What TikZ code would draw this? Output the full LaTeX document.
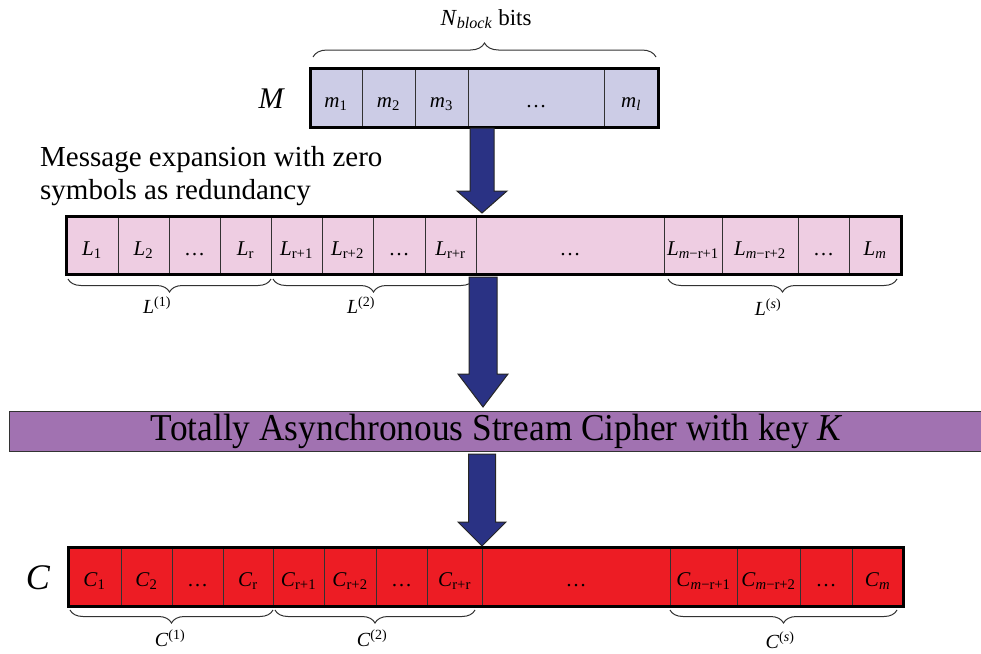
\documentclass[tikz,border=0pt]{standalone}
\usepackage{fontspec}
\setmainfont{Liberation Serif}
\usepackage{graphicx}
\usetikzlibrary{calc,fit,decorations.pathreplacing}

\definecolor{mfill}{RGB}{204,204,230}
\definecolor{lfill}{RGB}{238,205,226}
\definecolor{cfill}{RGB}{237,28,36}
\definecolor{barfill}{RGB}{161,114,177}
\definecolor{arrowfill}{RGB}{42,50,132}
\definecolor{divline}{RGB}{50,50,50}

% italic symbol with subscript / superscript
\newcommand\symsub[2]{\textit{#1}\textsubscript{#2}}
\newcommand\symsup[2]{\textit{#1}\textsuperscript{#2}}

% fat block arrow: top point, tip point, shaft half width, head half width, head length
\newcommand\fatarrow[5]{%
  \draw[blockarrow] ($(#1)+(-#3,0)$) -- ($(#1)+(#3,0)$) -- ($(#2)+(#3,-#5)$)
    -- ($(#2)+(#4,-#5)$) -- (#2) -- ($(#2)+(-#4,-#5)$) -- ($(#2)+(-#3,-#5)$) -- cycle;}

\begin{document}
\begin{tikzpicture}[x=1pt,y=-1pt,
  cellbase/.style={rectangle, draw=divline, line width=1pt, inner sep=0pt, outer sep=0pt,
    text height=22pt, text depth=2pt},
  mcell/.style={cellbase, fill=mfill, minimum height=59pt, font=\fontsize{21}{24}\selectfont},
  lcell/.style={cellbase, fill=lfill, minimum height=58pt, font=\fontsize{21}{24}\selectfont},
  ccell/.style={cellbase, fill=cfill, minimum height=59pt, font=\fontsize{21}{24}\selectfont},
  rowframe/.style={draw=black, line width=3pt, inner sep=0pt, outer sep=0pt},
  brc/.style={draw=divline, line width=1pt, decorate},
  bracelabel/.style={font=\fontsize{20}{24}\selectfont, inner sep=0pt},
  blockarrow/.style={fill=arrowfill, draw=black!85, line width=1pt, line join=miter},
  biglabel/.style={font=\fontsize{30}{34}\selectfont\itshape, inner sep=0pt}]

\useasboundingbox (0,0) rectangle (981,653);

% ---- message block M ----
\foreach \a/\b/\t [count=\i] in {
  310/362/{\symsub{m}{1}},
  362/415/{\symsub{m}{2}},
  415/468/{\symsub{m}{3}},
  468/604/{…},
  604/658/{\symsub{m}{\textit{l}}}}
  \node[mcell, minimum width={\b-\a}] (m\i) at ({(\a+\b)/2},97.5) {\t};
\node[rowframe, fit=(m1)(m5)] (mrow) {};
\node[biglabel] (mlabel) at (271,99) {M};

\draw[brc, decoration={brace, amplitude=14pt}] (313,57) -- (656,57);
\node[font=\fontsize{23}{26}\selectfont, inner sep=0pt] (nblock) at (486,19)
  {\symsub{N}{\textit{block}} bits};

% ---- expanded message L ----
\node[font=\fontsize{29}{33}\selectfont, align=left, anchor=base west, inner sep=0pt] (expnote)
  at (40,199) {Message expansion with zero\\symbols as redundancy};

\foreach \a/\b/\t [count=\i] in {
  66/118/{\symsub{L}{1}},
  118/169/{\symsub{L}{2}},
  169/220/{…},
  220/271/{\symsub{L}{r}},
  271/322/{\symsub{L}{r+1}},
  322/373/{\symsub{L}{r+2}},
  373/425/{…},
  425/476/{\symsub{L}{r+r}},
  476/664/{…},
  664/722/{\symsub{L}{\textit{m}−r+1}},
  722/798/{\symsub{L}{\textit{m}−r+2}},
  798/849/{…},
  849/901/{\symsub{L}{\textit{m}}}}
  \node[lcell, minimum width={\b-\a}] (l\i) at ({(\a+\b)/2},245) {\t};
\node[rowframe, fit=(l1)(l13)] (lrow) {};

\draw[brc, decoration={brace, mirror, amplitude=13pt}] (68,279) -- (271,279);
\draw[brc, decoration={brace, mirror, amplitude=13pt}] (273,279) -- (474,279);
\draw[brc, decoration={brace, mirror, amplitude=13pt}] (668,279) -- (897,279);
\node[bracelabel] (lb1) at (157,305) {\symsup{L}{(1)}};
\node[bracelabel] (lb2) at (361,305) {\symsup{L}{(2)}};
\node[bracelabel] (lbs) at (768,307) {\symsup{L}{(\textit{s})}};

% ---- cipher stage ----
\node[fill=barfill, draw=black!80, line width=1pt, anchor=north west, inner sep=0pt,
  minimum width=975pt, minimum height=40pt, font=\fontsize{38}{42}\selectfont] (bar) at (9,411)
  {\scalebox{0.93}[1]{Totally Asynchronous Stream Cipher with key \textit{K}}};

% ---- ciphertext C ----
\foreach \a/\b/\t [count=\i] in {
  68/121/{\symsub{C}{1}},
  121/172/{\symsub{C}{2}},
  172/223/{…},
  223/273/{\symsub{C}{r}},
  273/324/{\symsub{C}{r+1}},
  324/376/{\symsub{C}{r+2}},
  376/427/{…},
  427/482/{\symsub{C}{r+r}},
  482/670/{…},
  670/737/{\symsub{C}{\textit{m}−r+1}},
  737/800/{\symsub{C}{\textit{m}−r+2}},
  800/852/{…},
  852/903/{\symsub{C}{\textit{m}}}}
  \node[ccell, minimum width={\b-\a}] (c\i) at ({(\a+\b)/2},576.5) {\t};
\node[rowframe, fit=(c1)(c13)] (crow) {};
\node[biglabel, font=\fontsize{36}{40}\selectfont\itshape] (clabel) at (38,578) {C};

\draw[brc, decoration={brace, mirror, amplitude=13pt}] (70,610) -- (273,610);
\draw[brc, decoration={brace, mirror, amplitude=13pt}] (275,610) -- (475,610);
\draw[brc, decoration={brace, mirror, amplitude=13pt}] (670,610) -- (897,610);
\node[bracelabel] (cb1) at (170,638) {\symsup{C}{(1)}};
\node[bracelabel] (cb2) at (372,638) {\symsup{C}{(2)}};
\node[bracelabel] (cbs) at (780,640) {\symsup{C}{(\textit{s})}};

% ---- block arrows between stages ----
\coordinate (ax1) at (482,0);
\coordinate (ax2) at (483,0);
\coordinate (a1s) at ($(ax1 |- mrow.south)+(0,1)$);
\coordinate (a1e) at ($(ax1 |- lrow.north)+(0,-3)$);
\coordinate (a2s) at ($(ax2 |- lrow.south)+(0,3)$);
\coordinate (a2e) at ($(ax2 |- bar.north)+(0,-4)$);
\coordinate (a3s) at ($(ax1 |- bar.south)+(0,2)$);
\coordinate (a3e) at ($(ax1 |- crow.north)+(0,-1)$);
\fatarrow{a1s}{a1e}{12}{25}{22}
\fatarrow{a2s}{a2e}{14}{25}{33}
\fatarrow{a3s}{a3e}{13.5}{24}{24}

\end{tikzpicture}
\end{document}
